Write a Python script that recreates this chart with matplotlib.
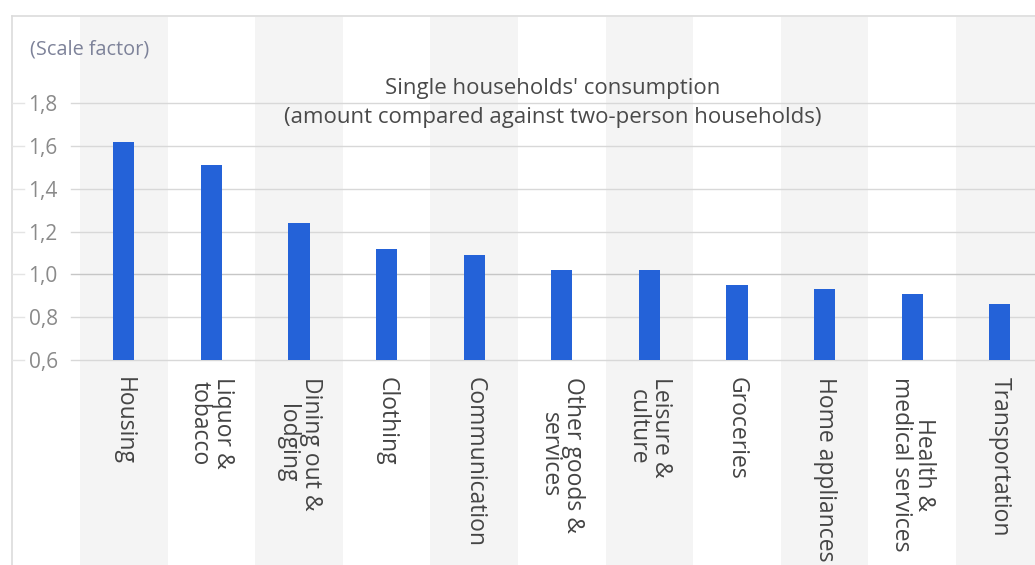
import matplotlib
matplotlib.use("Agg")
import matplotlib.pyplot as plt
from matplotlib.transforms import offset_copy, blended_transform_factory

categories = ["Housing", "Liquor &\ntobacco", "Dining out &\nlodging", "Clothing",
              "Communication", "Other goods &\nservices", "Leisure &\nculture",
              "Groceries", "Home appliances", "Health &\nmedical services",
              "Transportation"]
values = [1.62, 1.51, 1.24, 1.12, 1.09, 1.02, 1.02, 0.95, 0.93, 0.91, 0.86]
yticks = [0.6, 0.8, 1.0, 1.2, 1.4, 1.6, 1.8]
ytick_labels = ["0,6", "0,8", "1,0", "1,2", "1,4", "1,6", "1,8"]
title = "Single households' consumption\n(amount compared against two-person households)"
unit_label = "(Scale factor)"

plt.rcParams['font.family'] = ['Open Sans', 'DejaVu Sans']

W, H = 1035, 565
fig = plt.figure(figsize=(W / 100, H / 100), dpi=100)

# panel border (left and top lines)
fig.add_artist(plt.Line2D([12 / W, 12 / W], [0, 1 - 16 / H], color="#dcdcdc", lw=1.2))
fig.add_artist(plt.Line2D([12 / W, 1], [1 - 16 / H, 1 - 16 / H], color="#dcdcdc", lw=1.2))

# axes spanning the panel height
left_px, right_px, top_px, bot_px = 80, 1035, 17, 565
ax = fig.add_axes([left_px / W, 0, (right_px - left_px) / W, (H - top_px) / H])
step = 87.6
ppu = 214.0  # pixels per unit
base = 0.6
base_px = 360
ax.set_xlim(-0.5, -0.5 + (right_px - left_px) / step)
ax.set_ylim(base - (bot_px - base_px) / ppu, base + (base_px - top_px) / ppu)
for s in ax.spines.values():
    s.set_visible(False)

# alternating bands
for i in range(len(categories)):
    if i % 2 == 0:
        ax.axvspan(i - 0.5, i + 0.5, color="#f4f4f4", lw=0, zorder=0)

# gridlines
stub_tr = blended_transform_factory(fig.transFigure, ax.transData)
for t in yticks:
    ax.axhline(t, xmin=-0.009, color="#d8d8d8" if t != 1.0 else "#c6c6c6", lw=1.0, zorder=1,
               clip_on=False)
    fig.add_artist(plt.Line2D([12 / W, 24 / W], [t, t], transform=stub_tr,
                              color="#e4e4e4", lw=1.0))

x = list(range(len(categories)))
ax.bar(x, [v - base for v in values], bottom=base, width=0.24, color="#2462d8", zorder=3)

ax.set_xticks([])
ax.set_yticks(yticks)
ax.set_yticklabels(ytick_labels, color="#8a8a8a", fontsize=15)
ax.tick_params(axis="y", length=0, pad=16)

lbl_tr = offset_copy(ax.transData, fig=fig, y=-17, units="dots")
for i, c in enumerate(categories):
    ax.text(i, base, c, rotation=270, ha="center", va="top", fontsize=16.5,
            color="#444444", transform=lbl_tr, linespacing=0.95)

fig.text(553 / W, 1 - 103 / H, title, ha="center", va="center", fontsize=16,
         color="#4a4a4a", linespacing=1.55)
fig.text(30 / W, 1 - 50 / H, unit_label, ha="left", va="center", fontsize=14.3,
         color="#7d8299")

fig.savefig("out.png", dpi=100)
